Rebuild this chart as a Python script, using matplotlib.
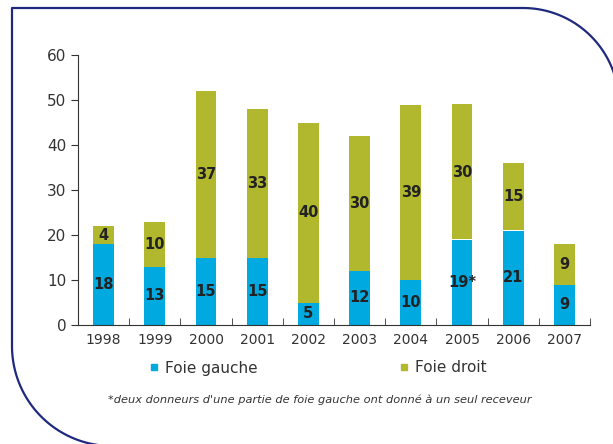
import numpy as np
import matplotlib.pyplot as plt
from matplotlib.lines import Line2D

years = ["1998", "1999", "2000", "2001", "2002", "2003", "2004", "2005", "2006", "2007"]
foie_gauche = [18, 13, 15, 15, 5, 12, 10, 19, 21, 9]
foie_droit = [4, 10, 37, 33, 40, 30, 39, 30, 15, 9]
gauche_labels = ["18", "13", "15", "15", "5", "12", "10", "19*", "21", "9"]
droit_labels = ["4", "10", "37", "33", "40", "30", "39", "30", "15", "9"]

blue = "#00A9E0"
olive = "#B1B82E"
navy = "#1F2A7F"
W, H = 613, 444

fig = plt.figure(figsize=(W / 100, H / 100), dpi=100)

# rounded frame drawn in pixel coordinates
bg = fig.add_axes([0, 0, 1, 1], zorder=-1)
bg.set_xlim(0, W)
bg.set_ylim(H, 0)
bg.axis("off")
t1 = np.linspace(np.pi / 2, 0, 60)
r1, cx1, cy1 = 96, 523, 104
t2 = np.linspace(np.pi, np.pi * 1.5, 60)
r2, cx2, cy2 = 100, 112, 346
xs = ([cx2 + r2 * np.cos(a) for a in t2[::-1]] + [12, 12]
      + [cx1 + r1 * np.cos(a) for a in t1] + [cx1 + r1, cx1 + r1])
ys = ([cy2 - r2 * np.sin(a) for a in t2[::-1]] + [cy2, 8]
      + [cy1 - r1 * np.sin(a) for a in t1] + [cy1, H + 10])
bg.plot(xs, ys, color=navy, lw=1.6, solid_capstyle="butt", clip_on=False)

ax = fig.add_axes([78 / W, 1 - 325 / H, 512 / W, 270 / H])
x = np.arange(len(years))
ax.bar(x, foie_gauche, width=0.41, color=blue, label="Foie gauche")
ax.bar(x, foie_droit, width=0.41, bottom=foie_gauche, color=olive, label="Foie droit")

for i in range(len(years)):
    ax.text(x[i], foie_gauche[i] / 2, gauche_labels[i], ha="center", va="center",
            fontsize=10.5, fontweight="bold", color="#222222")
    ax.text(x[i], foie_gauche[i] + foie_droit[i] / 2, droit_labels[i], ha="center",
            va="center", fontsize=10.5, fontweight="bold", color="#222222")

ax.set_xlim(-0.5, len(years) - 0.5)
ax.set_ylim(0, 60)
ax.set_yticks(range(0, 61, 10))
ax.set_xticks(x)
ax.set_xticklabels(years)
ax.set_xticks(np.arange(-0.5, len(years)), minor=True)
ax.tick_params(axis="x", which="major", length=0, pad=6, labelsize=10, labelcolor="#333333")
ax.tick_params(axis="x", which="minor", direction="in", length=5, color="#333333")
ax.tick_params(axis="y", length=5, labelsize=11, labelcolor="#333333", color="#333333")
for s in ["top", "right"]:
    ax.spines[s].set_visible(False)
ax.spines["left"].set_color("#333333")
ax.spines["bottom"].set_color("#333333")

handles = [Line2D([], [], marker="s", ls="", color=blue, markersize=5),
           Line2D([], [], marker="s", ls="", color=olive, markersize=5)]
fig.legend(handles, ["Foie gauche", "Foie droit"], ncol=2, loc="center",
           bbox_to_anchor=(0.519, 1 - 368 / H), frameon=False, fontsize=11,
           handlelength=0.6, handletextpad=0.4, columnspacing=9.3,
           labelcolor="#333333")

fig.text(0.522, 1 - 400 / H,
         "*deux donneurs d'une partie de foie gauche ont donné à un seul receveur",
         ha="center", va="center", fontsize=8.2, style="italic", color="#333333")

plt.savefig("out.png", dpi=100)
